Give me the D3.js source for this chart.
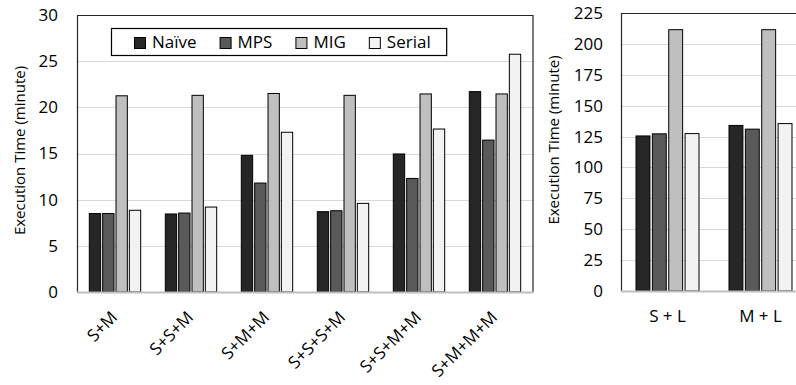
<!DOCTYPE html>
<html>
<head>
<meta charset="utf-8">
<script src="https://cdn.jsdelivr.net/npm/d3@7"></script>
<style>
  html, body { margin: 0; padding: 0; background: #fff; }
  svg { display: block; font-family: "Open Sans", sans-serif; }
</style>
</head>
<body>
<svg id="chart" width="796" height="385"></svg>
<script>
// ---- data ----
const series = ["Naïve", "MPS", "MIG", "Serial"];
const seriesColors = ["#262626", "#595959", "#bfbfbf", "#f2f2f2"];

const leftCategories = ["S+M", "S+S+M", "S+M+M", "S+S+S+M", "S+S+M+M", "S+M+M+M"];
const leftNaive  = [8.5, 8.45, 14.8, 8.7, 14.95, 21.7];
const leftMPS    = [8.5, 8.55, 11.8, 8.8, 12.3, 16.45];
const leftMIG    = [21.25, 21.3, 21.5, 21.3, 21.45, 21.45];
const leftSerial = [8.85, 9.2, 17.3, 9.6, 17.65, 25.75];
const leftTicks  = [0, 5, 10, 15, 20, 25, 30];

const rightCategories = ["S + L", "M + L"];
const rightNaive  = [125.5, 134];
const rightMPS    = [127.2, 131];
const rightMIG    = [211.5, 211.5];
const rightSerial = [127.4, 135.5];
const rightTicks  = [0, 25, 50, 75, 100, 125, 150, 175, 200, 225];

const yTitle = "Execution Time (minute)";

const svg = d3.select("#chart");
const color = d3.scaleOrdinal().domain(series).range(seriesColors);

function drawPanel(opts) {
  const { left, right, top, bottom, categories, values, ticks, yMax,
          tickOffset, titleX, rotated } = opts;
  const g = svg.append("g");
  const y = d3.scaleLinear().domain([0, yMax]).range([bottom, top]);
  const x0 = d3.scaleBand().domain(categories).range([left, right])
      .paddingInner(opts.padInner).paddingOuter(opts.padInner / 2);
  const x1 = d3.scaleBand().domain(series).range([0, x0.bandwidth()])
      .paddingInner(0.15).paddingOuter(0);

  // gridlines
  g.append("g").selectAll("line")
    .data(ticks.filter(t => t > 0 && t < yMax))
    .join("line")
    .attr("x1", left).attr("x2", opts.frameRight)
    .attr("y1", d => Math.round(y(d)) + 0.5).attr("y2", d => Math.round(y(d)) + 0.5)
    .attr("stroke", "#d9d9d9").attr("stroke-width", 1.2);

  // frame
  g.append("path")
    .attr("d", `M${left + 0.5},${bottom}V${Math.round(top) + 0.5}H${opts.frameRight - 0.5}V${bottom}`)
    .attr("fill", "none").attr("stroke", "#262626").attr("stroke-width", 1.2);

  // bars
  const rows = categories.map((c, i) => ({ cat: c, vals: series.map((s, k) => ({ s, v: values[k][i] })) }));
  g.append("g").selectAll("g")
    .data(rows)
    .join("g")
    .attr("transform", d => `translate(${x0(d.cat)},0)`)
    .selectAll("rect")
    .data(d => d.vals)
    .join("rect")
    .attr("x", d => x1(d.s))
    .attr("width", x1.bandwidth())
    .attr("y", d => y(d.v))
    .attr("height", d => bottom - y(d.v))
    .attr("fill", d => color(d.s))
    .attr("stroke", "#000").attr("stroke-width", 1);

  // bottom axis line
  g.append("line")
    .attr("x1", left).attr("x2", opts.frameRight)
    .attr("y1", bottom + 0.5).attr("y2", bottom + 0.5)
    .attr("stroke", "#bfbfbf").attr("stroke-width", 2);

  // y tick labels
  const yAxis = d3.axisLeft(y).tickValues(ticks).tickSize(0).tickPadding(tickOffset);
  const ya = g.append("g").attr("transform", `translate(${left},0)`).call(yAxis);
  ya.select(".domain").remove();
  ya.selectAll("text").attr("font-size", 17).attr("fill", "#000")
    .attr("font-family", "Open Sans, sans-serif");

  // x labels
  const xl = g.append("g").selectAll("text").data(categories).join("text")
    .attr("font-size", 17).attr("fill", "#000").text(d => d);
  if (rotated) {
    xl.attr("text-anchor", "end")
      .attr("transform", d => `translate(${x0(d) + x0.bandwidth() / 2 - 5},${bottom + 18}) rotate(-45)`)
      .attr("dy", "0.7em");
  } else {
    xl.attr("text-anchor", "middle")
      .attr("x", d => x0(d) + x0.bandwidth() / 2)
      .attr("y", bottom + 25)
      .attr("dy", "0.35em");
  }

  // y title
  g.append("text")
    .attr("transform", `translate(${titleX},${(top + bottom) / 2 - opts.titleShift}) rotate(-90)`)
    .attr("text-anchor", "middle").attr("dy", "0.35em")
    .attr("font-size", 15).attr("fill", "#000")
    .text(yTitle);
  return { x0, y };
}

drawPanel({
  left: 77, right: 533, frameRight: 533.5, top: 15, bottom: 292,
  categories: leftCategories,
  values: [leftNaive, leftMPS, leftMIG, leftSerial],
  ticks: leftTicks, yMax: 30, tickOffset: 19, titleX: 20, titleShift: 3,
  padInner: 0.324, rotated: true
});

drawPanel({
  left: 621, right: 807, frameRight: 807, top: 13, bottom: 291,
  categories: rightCategories,
  values: [rightNaive, rightMPS, rightMIG, rightSerial],
  ticks: rightTicks, yMax: 225, tickOffset: 18, titleX: 554, titleShift: 12,
  padInner: 0.3226, rotated: false
});

// legend
const lg = svg.append("g");
const box = lg.append("rect")
  .attr("x", 111.5).attr("y", 28.5).attr("height", 27)
  .attr("fill", "#fff").attr("stroke", "#000").attr("stroke-width", 1.2);
let cx = 134;
series.forEach((s, i) => {
  lg.append("rect").attr("x", cx + 0.5).attr("y", 37.5).attr("width", 11).attr("height", 11)
    .attr("fill", color(s)).attr("stroke", "#000").attr("stroke-width", 1);
  const t = lg.append("text").attr("x", cx + 18).attr("y", 42.5).attr("dy", "0.35em")
    .attr("font-size", 17).attr("fill", "#000").text(s);
  const w = t.node().getComputedTextLength();
  cx = cx + 18 + w + 23;
});
box.attr("width", cx - 23 + 16 - 111.5);
</script>
</body>
</html>
